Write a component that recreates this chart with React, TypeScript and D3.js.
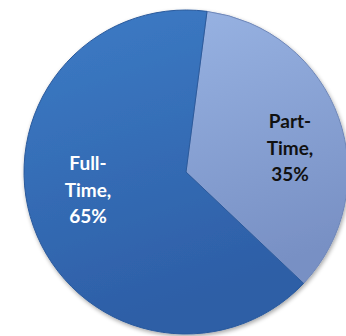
import React from "react";
import * as d3 from "d3";

const categories = ["Part-Time", "Full-Time"];
const values = [35, 65];
const labelLines = [["Part-", "Time,", "35%"], ["Full-", "Time,", "65%"]];

const W = 346;
const H = 336;
const cx = 186;
const cy = 172;
const R = 162;

export default function App() {
  const data = categories.map((c, i) => ({ c, v: values[i], lines: labelLines[i] }));
  const pie = d3
    .pie<any>()
    .sort(null)
    .value((d) => d.v)
    .startAngle(0.13)
    .endAngle(0.13 + Math.PI * 2);
  const arcs = pie(data);
  const arc = d3.arc<any>().innerRadius(0).outerRadius(R);
  const gradIds = ["gPart", "gFull"];
  const labelPos = [
    { x: 104, y: -44 },
    { x: -98, y: -2 },
  ];
  const labelColors = ["#111", "#fff"];
  return (
    <svg
      width={W}
      height={H}
      style={{ position: "absolute", left: 0, top: 0, background: "#fff" }}
    >
      <defs>
        <linearGradient id="gFull" x1="0" y1="0" x2="0.3" y2="1">
          <stop offset="0" stopColor="#3d7cc6" />
          <stop offset="1" stopColor="#2d5ea6" />
        </linearGradient>
        <linearGradient id="gPart" x1="0" y1="0" x2="0.2" y2="1">
          <stop offset="0" stopColor="#97b2e2" />
          <stop offset="1" stopColor="#7890c4" />
        </linearGradient>
        <filter id="sh" x="-10%" y="-10%" width="120%" height="120%">
          <feGaussianBlur in="SourceAlpha" stdDeviation="2" />
          <feOffset dx="1" dy="2" result="b" />
          <feComponentTransfer>
            <feFuncA type="linear" slope="0.35" />
          </feComponentTransfer>
          <feMerge>
            <feMergeNode />
            <feMergeNode in="SourceGraphic" />
          </feMerge>
        </filter>
      </defs>
      <g transform={`translate(${cx},${cy})`} filter="url(#sh)">
        {arcs.map((a, i) => (
          <path
            key={i}
            d={arc(a) as string}
            fill={`url(#${gradIds[i]})`}
            stroke={i === 0 ? "#6f87b8" : "#2b5a9c"}
            strokeWidth={1}
          />
        ))}
      </g>
      <g transform={`translate(${cx},${cy})`}>
        {arcs.map((a, i) => (
          <text
            key={i}
            x={labelPos[i].x}
            y={labelPos[i].y}
            textAnchor="middle"
            fontFamily="Lato, 'Open Sans', sans-serif"
            fontWeight="bold"
            fontSize={19}
            fill={labelColors[i]}
          >
            {a.data.lines.map((t: string, j: number) => (
              <tspan key={j} x={labelPos[i].x} dy={j === 0 ? 0 : 26.5}>
                {t}
              </tspan>
            ))}
          </text>
        ))}
      </g>
    </svg>
  );
}
